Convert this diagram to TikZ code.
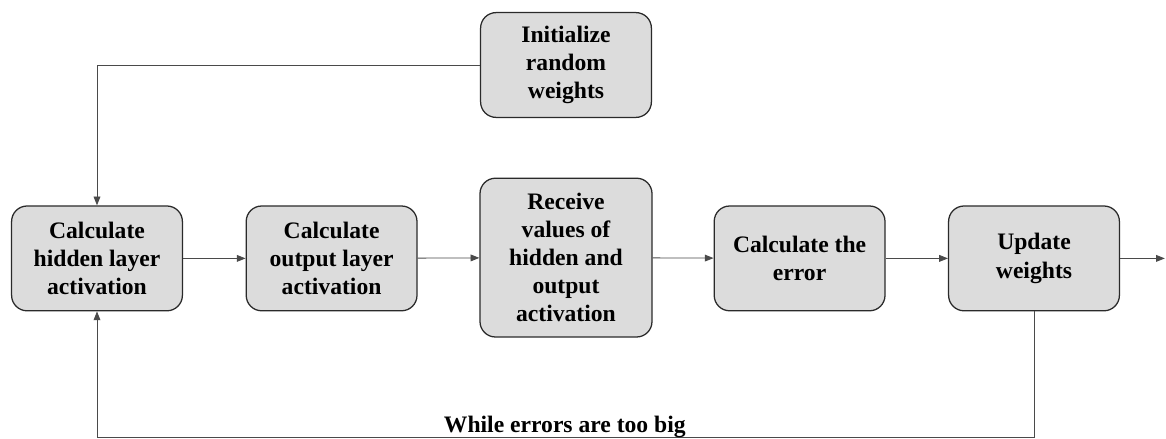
\documentclass[tikz,border=0pt]{standalone}
\usepackage{fontspec}
\setmainfont{Liberation Serif}[BoldFont={Liberation Serif Bold}]
\usetikzlibrary{arrows.meta,positioning,calc}
\definecolor{bgrey}{HTML}{DCDCDC}
\definecolor{bline}{HTML}{2A2A2A}
\definecolor{cline}{HTML}{4A4A4A}
\tikzset{
  blk/.style={draw=bline,fill=bgrey,rounded corners=11pt,line width=0.9pt,minimum height=2.62cm,
              minimum width=4.27cm,align=center,font=\rmfamily\bfseries\fontsize{16.8}{20}\selectfont,inner sep=2pt},
  arr/.style={-{Triangle[length=2.2mm,width=1.7mm]},line width=0.6pt,cline},
  lbl/.style={font=\rmfamily\bfseries\fontsize{16.8}{20}\selectfont},
}
\begin{document}
\begin{tikzpicture}
\useasboundingbox (0,0) rectangle (29.15,-10.975);
% steps
\node[blk] (init) at (14.15,-1.625) {Initialize\\random\\weights};
\node[blk] (hid) at (2.425,-6.46) {Calculate\\hidden layer\\activation};
\node[blk] (outl) at (8.29,-6.46) {Calculate\\output layer\\activation};
\node[blk,minimum height=3.97cm,minimum width=4.3cm] (recv) at (14.15,-6.44)
  {Receive\\values of\\hidden and\\output\\activation};
\node[blk] (err) at (19.99,-6.46) {Calculate the\\error};
\node[blk] (upd) at (25.85,-6.46) {Update\\weights};
\coordinate (out) at (29.12,-6.46);
\coordinate (loop) at (0,-10.925);
% flow
\draw[arr] (init.west) -| (hid.north);
\foreach \a/\b in {hid/outl,outl/recv,recv/err,err/upd,upd/out} \draw[arr] (\a) -- (\b);
% repeat
\draw[arr] (upd.south) -- (upd.south |- loop) -| (hid.south);
\node[lbl,anchor=base] (while) at (14.12,-10.8) {While errors are too big};
\end{tikzpicture}
\end{document}
